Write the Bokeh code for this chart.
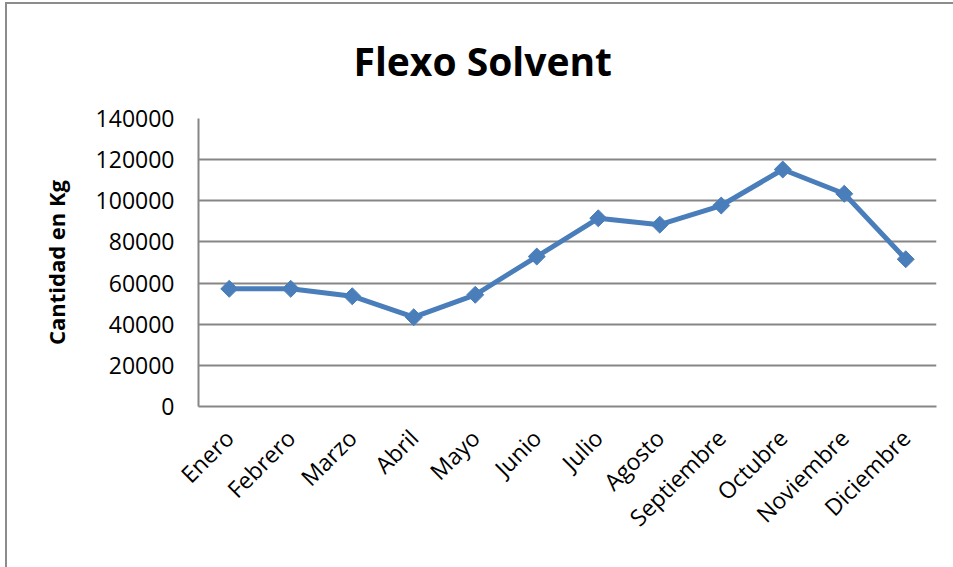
import math
from bokeh.plotting import figure
from bokeh.models import ColumnDataSource, FactorRange, Range1d, FixedTicker
from bokeh.embed import file_html
from bokeh.resources import INLINE

months = ["Enero", "Febrero", "Marzo", "Abril", "Mayo", "Junio", "Julio",
          "Agosto", "Septiembre", "Octubre", "Noviembre", "Diciembre"]
kg = [57200, 57200, 53600, 43400, 54300, 72900, 91500, 88400, 97700,
      115200, 103400, 71600]
y_ticks = [0, 20000, 40000, 60000, 80000, 100000, 120000, 140000]

src = ColumnDataSource(dict(m=months, v=kg))

p = figure(width=953, height=567, output_backend="svg", toolbar_location=None,
           x_range=FactorRange(*months, range_padding=0),
           y_range=Range1d(0, 140000),
           min_border_left=198, min_border_right=17, min_border_top=118,
           min_border_bottom=161, border_fill_alpha=0,
           background_fill_color="white")
p.styles = {"box-shadow": "inset 5px 2px 0 0 white, inset 7px 4px 0 0 #8c8c8c"}

p.title.text = "Flexo Solvent"
p.title.text_font = "Open Sans"
p.title.text_font_size = "39px"
p.title.text_font_style = "bold"
p.title.text_color = "black"
p.title.align = "left"
p.title.offset = 155
p.title.standoff = 63

p.outline_line_color = None
p.xgrid.grid_line_color = None
p.ygrid.grid_line_color = "#868686"
p.ygrid.grid_line_width = 2
p.yaxis.ticker = FixedTicker(ticks=y_ticks)

for ax in (p.xaxis[0], p.yaxis[0]):
    ax.axis_line_color = "#868686"
    ax.axis_line_width = 2
    ax.major_tick_line_color = None
    ax.minor_tick_line_color = None
    ax.major_tick_out = 0
    ax.major_tick_in = 0
    ax.major_label_text_font = "Open Sans"
    ax.major_label_text_color = "black"

yax = p.yaxis[0]
yax.major_label_text_font_size = "23px"
yax.major_label_standoff = 24
yax.formatter.use_scientific = False
yax.axis_label = "Cantidad en Kg"
yax.axis_label_text_font = "Open Sans"
yax.axis_label_text_font_size = "22px"
yax.axis_label_text_font_style = "bold"
yax.axis_label_text_color = "black"
yax.axis_label_standoff = 22

xax = p.xaxis[0]
xax.major_label_text_font_size = "23px"
xax.major_label_orientation = math.pi / 4
xax.major_label_standoff = 27

p.line("m", "v", source=src, line_color="#4A7EBB", line_width=5)
p.scatter("m", "v", source=src, marker="square", angle=math.pi / 4, size=12,
          fill_color="#4A7EBB", line_color="#4A7EBB")

open("out.html", "w").write(file_html(p, INLINE))
